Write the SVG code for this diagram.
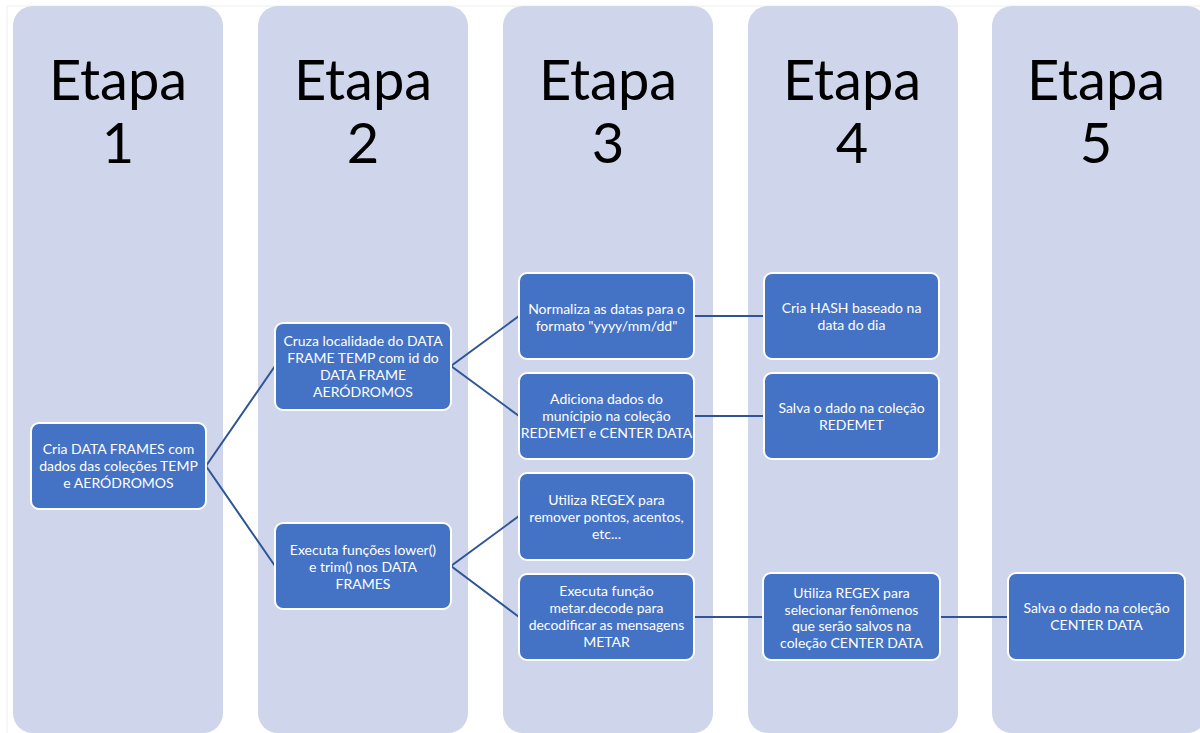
<svg xmlns="http://www.w3.org/2000/svg" width="1200" height="733" viewBox="0 0 1200 733">
  <style>
    .col { fill: #CFD5EA; }
    .title { font-family: Lato, "Liberation Sans", sans-serif; font-size: 56px; fill: #000; text-anchor: middle; }
    .node rect { fill: #4472C4; stroke: #FFFFFF; stroke-width: 2; }
    .node text { font-family: Lato, "Liberation Sans", sans-serif; font-size: 14px; fill: #FFFFFF; text-anchor: middle; dominant-baseline: central; }
    .edge { stroke: #2F5597; stroke-width: 2; fill: none; }
  </style>
  <rect x="0" y="0" width="1200" height="733" fill="#FFFFFF"/>
  <line x1="7" y1="6" x2="1200" y2="6" stroke="#EEEEEE" stroke-width="1"/>
  <line x1="7" y1="6" x2="7" y2="733" stroke="#EEEEEE" stroke-width="1"/>

  <!-- stage columns -->
  <g id="stages">
    <rect class="col" x="13" y="6" width="210" height="727" rx="20"/>
    <rect class="col" x="258" y="6" width="210" height="727" rx="20"/>
    <rect class="col" x="503" y="6" width="210" height="727" rx="20"/>
    <rect class="col" x="748" y="6" width="210" height="727" rx="20"/>
    <rect class="col" x="992" y="6" width="215" height="727" rx="20"/>
    <text class="title" x="118" y="100">Etapa</text><text class="title" x="118" y="163">1</text>
    <text class="title" x="363" y="100">Etapa</text><text class="title" x="363" y="163">2</text>
    <text class="title" x="608" y="100">Etapa</text><text class="title" x="608" y="163">3</text>
    <text class="title" x="852" y="100">Etapa</text><text class="title" x="852" y="163">4</text>
    <text class="title" x="1096" y="100">Etapa</text><text class="title" x="1096" y="163">5</text>
  </g>

  <!-- connectors -->
  <g id="connectors">
    <polyline class="edge" points="275,366 206,466 275,566"/>
    <polyline class="edge" points="519,316 451,366 519,416"/>
    <polyline class="edge" points="519,516 451,566 519,617"/>
    <line class="edge" x1="694" y1="316" x2="764" y2="316"/>
    <line class="edge" x1="694" y1="416" x2="764" y2="416"/>
    <line class="edge" x1="694" y1="617" x2="763" y2="617"/>
    <line class="edge" x1="940" y1="617" x2="1008" y2="617"/>
  </g>

  <g id="n1" class="node">
    <rect x="31" y="423" width="175" height="86" rx="8"/>
    <text x="118.5" y="448">Cria DATA FRAMES com</text>
    <text x="118.5" y="465">dados das coleções TEMP</text>
    <text x="118.5" y="482">e AERÓDROMOS</text>
  </g>

  <g id="n2a" class="node">
    <rect x="275" y="323" width="176" height="87" rx="8"/>
    <text x="363" y="340">Cruza localidade do DATA</text>
    <text x="363" y="357">FRAME TEMP com id do</text>
    <text x="363" y="374">DATA FRAME</text>
    <text x="363" y="391">AERÓDROMOS</text>
  </g>

  <g id="n2b" class="node">
    <rect x="275" y="523" width="176" height="86" rx="8"/>
    <text x="363" y="549">Executa funções lower()</text>
    <text x="363" y="566">e trim() nos DATA</text>
    <text x="363" y="583">FRAMES</text>
  </g>

  <g id="n3a" class="node">
    <rect x="519" y="273" width="175" height="86" rx="8"/>
    <text x="606.5" y="308">Normaliza as datas para o</text>
    <text x="606.5" y="325">formato "yyyy/mm/dd"</text>
  </g>

  <g id="n3b" class="node">
    <rect x="519" y="373" width="175" height="86" rx="8"/>
    <text x="606.5" y="398">Adiciona dados do</text>
    <text x="606.5" y="415">munícipio na coleção</text>
    <text x="606.5" y="432">REDEMET e CENTER DATA</text>
  </g>

  <g id="n3c" class="node">
    <rect x="519" y="473" width="175" height="87" rx="8"/>
    <text x="606.5" y="499">Utiliza REGEX para</text>
    <text x="606.5" y="516">remover pontos, acentos,</text>
    <text x="606.5" y="533">etc...</text>
  </g>

  <g id="n3d" class="node">
    <rect x="519" y="574" width="175" height="86" rx="8"/>
    <text x="606.5" y="590">Executa função</text>
    <text x="606.5" y="607">metar.decode para</text>
    <text x="606.5" y="624">decodificar as mensagens</text>
    <text x="606.5" y="641">METAR</text>
  </g>

  <g id="n4a" class="node">
    <rect x="764" y="273" width="175" height="86" rx="8"/>
    <text x="851.5" y="307">Cria HASH baseado na</text>
    <text x="851.5" y="324">data do dia</text>
  </g>

  <g id="n4b" class="node">
    <rect x="764" y="373" width="175" height="86" rx="8"/>
    <text x="851.5" y="407">Salva o dado na coleção</text>
    <text x="851.5" y="424">REDEMET</text>
  </g>

  <g id="n4c" class="node">
    <rect x="763" y="573" width="177" height="87" rx="8"/>
    <text x="851.5" y="592">Utiliza REGEX para</text>
    <text x="851.5" y="609">selecionar fenômenos</text>
    <text x="851.5" y="625">que serão salvos na</text>
    <text x="851.5" y="642">coleção CENTER DATA</text>
  </g>

  <g id="n5" class="node">
    <rect x="1008" y="573" width="177" height="87" rx="8"/>
    <text x="1096.5" y="607">Salva o dado na coleção</text>
    <text x="1096.5" y="624">CENTER DATA</text>
  </g>
</svg>
